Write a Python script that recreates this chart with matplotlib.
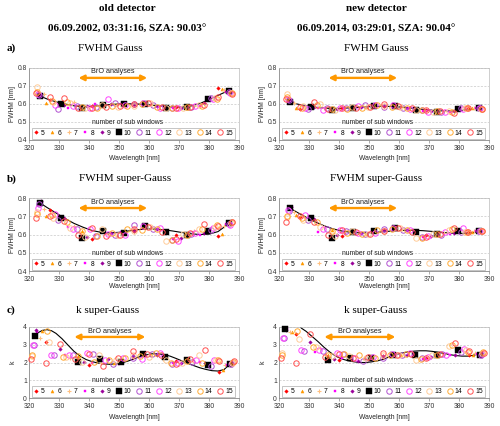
import numpy as np
import matplotlib
matplotlib.use('Agg')
import matplotlib.pyplot as plt
from matplotlib.lines import Line2D

plt.rcParams['font.family'] = 'Liberation Sans'

# number of sub windows per series
n_windows = [5, 6, 7, 8, 9, 10, 11, 12, 13, 14, 15]

# sub window centre wavelengths [nm] for the FWHM panels
x_fwhm = [
    [327.0, 341.0, 355.0, 369.0, 383.0],
    [325.8, 337.5, 349.2, 360.8, 372.5, 384.2],
    [325.0, 335.0, 345.0, 355.0, 365.0, 375.0, 385.0],
    [324.4, 333.1, 341.9, 350.6, 359.4, 368.1, 376.9, 385.6],
    [323.9, 331.7, 339.4, 347.2, 355.0, 362.8, 370.6, 378.3, 386.1],
    [323.5, 330.5, 337.5, 344.5, 351.5, 358.5, 365.5, 372.5, 379.5, 386.5],
    [323.2, 329.5, 335.9, 342.3, 348.6, 355.0, 361.4, 367.7, 374.1, 380.5, 386.8],
    [322.9, 328.8, 334.6, 340.4, 346.2, 352.1, 357.9, 363.8, 369.6, 375.4, 381.2, 387.1],
    [322.7, 328.1, 333.5, 338.8, 344.2, 349.6, 355.0, 360.4, 365.8, 371.2, 376.5, 381.9, 387.3],
    [322.5, 327.5, 332.5, 337.5, 342.5, 347.5, 352.5, 357.5, 362.5, 367.5, 372.5, 377.5, 382.5, 387.5],
    [322.3, 327.0, 331.7, 336.3, 341.0, 345.7, 350.3, 355.0, 359.7, 364.3, 369.0, 373.7, 378.3, 383.0, 387.7],
]

# sub window centre wavelengths [nm] for the k panels
x_k = [
    [325.5, 340.0, 354.5, 368.9, 383.4],
    [324.3, 336.4, 348.4, 360.5, 372.5, 384.6],
    [323.5, 333.8, 344.1, 354.5, 364.8, 375.1, 385.4],
    [322.8, 331.9, 340.9, 349.9, 359.0, 368.0, 377.0, 386.1],
    [322.3, 330.4, 338.4, 346.4, 354.5, 362.5, 370.5, 378.6, 386.6],
    [321.9, 329.2, 336.4, 343.6, 350.8, 358.1, 365.3, 372.5, 379.8, 387.0],
    [321.6, 328.2, 334.7, 341.3, 347.9, 354.5, 361.0, 367.6, 374.2, 380.7, 387.3],
    [321.3, 327.3, 333.4, 339.4, 345.4, 351.4, 357.5, 363.5, 369.5, 375.5, 381.6, 387.6],
    [321.1, 326.6, 332.2, 337.8, 343.3, 348.9, 354.5, 360.0, 365.6, 371.1, 376.7, 382.3, 387.8],
    [320.9, 326.0, 331.2, 336.4, 341.5, 346.7, 351.9, 357.0, 362.2, 367.4, 372.5, 377.7, 382.9, 388.0],
    [320.7, 325.5, 330.4, 335.2, 340.0, 344.8, 349.6, 354.5, 359.3, 364.1, 368.9, 373.7, 378.6, 383.4, 388.2],
]

# a) FWHM Gauss, old detector (2002)
gauss_old = [
    [0.620, 0.590, 0.600, 0.585, 0.690],
    [0.608, 0.585, 0.598, 0.602, 0.580, 0.685],
    [0.655, 0.610, 0.590, 0.605, 0.585, 0.590, 0.675],
    [0.640, 0.580, 0.598, 0.600, 0.603, 0.578, 0.588, 0.668],
    [0.642, 0.593, 0.588, 0.602, 0.598, 0.590, 0.580, 0.605, 0.672],
    [0.645, 0.598, 0.578, 0.596, 0.600, 0.600, 0.575, 0.584, 0.630, 0.670],
    [0.648, 0.572, 0.590, 0.582, 0.607, 0.600, 0.595, 0.580, 0.585, 0.635, 0.668],
    [0.655, 0.595, 0.588, 0.578, 0.625, 0.592, 0.605, 0.578, 0.580, 0.588, 0.628, 0.662],
    [0.695, 0.612, 0.603, 0.576, 0.592, 0.585, 0.590, 0.603, 0.575, 0.575, 0.592, 0.632, 0.660],
    [0.668, 0.615, 0.612, 0.586, 0.580, 0.590, 0.588, 0.600, 0.585, 0.575, 0.582, 0.590, 0.630, 0.660],
    [0.662, 0.640, 0.632, 0.580, 0.576, 0.582, 0.590, 0.600, 0.606, 0.582, 0.575, 0.585, 0.595, 0.638, 0.658],
]

# a) FWHM Gauss, new detector (2014)
gauss_new = [
    [0.572, 0.575, 0.590, 0.565, 0.580],
    [0.575, 0.572, 0.582, 0.590, 0.565, 0.578],
    [0.605, 0.578, 0.580, 0.592, 0.570, 0.560, 0.580],
    [0.612, 0.580, 0.575, 0.588, 0.585, 0.560, 0.558, 0.578],
    [0.615, 0.585, 0.570, 0.583, 0.587, 0.578, 0.560, 0.560, 0.578],
    [0.611, 0.583, 0.567, 0.580, 0.587, 0.589, 0.567, 0.554, 0.572, 0.578],
    [0.620, 0.570, 0.578, 0.575, 0.592, 0.583, 0.580, 0.568, 0.558, 0.575, 0.578],
    [0.625, 0.575, 0.568, 0.575, 0.588, 0.596, 0.593, 0.572, 0.558, 0.555, 0.572, 0.575],
    [0.655, 0.590, 0.598, 0.568, 0.582, 0.585, 0.590, 0.585, 0.568, 0.558, 0.560, 0.575, 0.572],
    [0.640, 0.578, 0.595, 0.570, 0.572, 0.580, 0.592, 0.585, 0.575, 0.565, 0.560, 0.558, 0.578, 0.572],
    [0.630, 0.582, 0.610, 0.570, 0.575, 0.578, 0.585, 0.598, 0.588, 0.575, 0.568, 0.562, 0.550, 0.580, 0.570],
]

# b) FWHM super-Gauss, old detector
sgauss_old = [
    [0.735, 0.578, 0.628, 0.600, 0.592],
    [0.700, 0.618, 0.590, 0.640, 0.610, 0.602],
    [0.740, 0.645, 0.630, 0.615, 0.612, 0.620, 0.645],
    [0.780, 0.640, 0.595, 0.612, 0.640, 0.575, 0.600, 0.655],
    [0.782, 0.690, 0.588, 0.608, 0.620, 0.630, 0.582, 0.610, 0.662],
    [0.772, 0.693, 0.582, 0.618, 0.606, 0.645, 0.613, 0.599, 0.617, 0.664],
    [0.765, 0.680, 0.628, 0.592, 0.600, 0.650, 0.630, 0.570, 0.605, 0.625, 0.655],
    [0.745, 0.710, 0.630, 0.630, 0.605, 0.600, 0.648, 0.635, 0.562, 0.610, 0.635, 0.652],
    [0.725, 0.690, 0.638, 0.585, 0.630, 0.598, 0.620, 0.640, 0.565, 0.605, 0.632, 0.640, 0.665],
    [0.712, 0.705, 0.670, 0.618, 0.590, 0.606, 0.632, 0.625, 0.628, 0.568, 0.600, 0.628, 0.650, 0.668],
    [0.692, 0.700, 0.672, 0.600, 0.636, 0.590, 0.600, 0.628, 0.640, 0.615, 0.575, 0.610, 0.660, 0.648, 0.670],
]

# b) FWHM super-Gauss, new detector
sgauss_new = [
    [0.695, 0.590, 0.625, 0.598, 0.615],
    [0.705, 0.622, 0.605, 0.630, 0.605, 0.615],
    [0.725, 0.642, 0.615, 0.625, 0.618, 0.610, 0.620],
    [0.752, 0.615, 0.605, 0.612, 0.632, 0.585, 0.605, 0.618],
    [0.752, 0.685, 0.595, 0.608, 0.625, 0.625, 0.590, 0.610, 0.620],
    [0.746, 0.690, 0.583, 0.616, 0.618, 0.633, 0.616, 0.605, 0.618, 0.620],
    [0.730, 0.680, 0.632, 0.618, 0.602, 0.630, 0.622, 0.585, 0.600, 0.612, 0.618],
    [0.735, 0.705, 0.630, 0.622, 0.608, 0.608, 0.638, 0.625, 0.590, 0.612, 0.635, 0.620],
    [0.695, 0.680, 0.640, 0.590, 0.618, 0.605, 0.620, 0.635, 0.580, 0.605, 0.625, 0.612, 0.620],
    [0.700, 0.690, 0.670, 0.620, 0.610, 0.605, 0.625, 0.630, 0.622, 0.580, 0.605, 0.630, 0.615, 0.620],
    [0.668, 0.700, 0.670, 0.600, 0.625, 0.612, 0.605, 0.620, 0.635, 0.615, 0.585, 0.605, 0.635, 0.612, 0.620],
]

# c) k super-Gauss, old detector
k_old = [
    [3.15, 1.85, 2.30, 2.10, 1.45],
    [3.78, 2.35, 1.95, 2.40, 2.15, 1.55],
    [3.40, 2.25, 2.00, 2.35, 2.20, 2.05, 1.85],
    [3.72, 2.40, 2.00, 1.90, 2.35, 1.95, 2.05, 1.85],
    [3.82, 2.78, 2.05, 2.20, 2.35, 2.40, 1.95, 2.00, 1.90],
    [3.48, np.nan, 2.02, 2.20, 2.05, 2.47, 2.30, 2.13, 1.85, 1.92],
    [3.00, 2.40, 2.40, 2.50, 1.90, 2.25, 2.50, 1.90, 2.05, 1.80, 1.90],
    [3.00, 2.40, 2.40, 2.55, 2.15, 2.25, 2.20, 2.55, 1.95, 2.15, 2.15, 1.95],
    [2.35, 3.15, 2.30, 2.05, 2.45, 2.15, 2.40, 2.30, 2.15, 1.95, 2.40, 2.15, 2.00],
    [2.40, 3.80, 2.30, 2.35, 2.05, 2.15, 2.25, 2.35, 2.55, 1.95, 2.10, 2.00, 2.15, 2.05],
    [2.20, 1.97, 3.03, 2.20, 2.50, 1.80, 2.25, 2.62, 2.50, 2.40, 1.90, 2.20, 2.70, 2.10, 2.10],
]

# c) k super-Gauss, new detector
k_new = [
    [3.60, 2.15, 2.30, 2.25, 2.40],
    [3.70, 2.45, 2.25, 2.40, 2.40, 2.45],
    [3.70, 2.80, 2.20, 2.35, 2.35, 2.50, 2.55],
    [3.87, 2.60, 2.25, 2.15, 2.40, 2.20, 2.45, 2.50],
    [3.85, 3.15, 2.20, 2.10, 2.35, 2.45, 2.30, 2.45, 2.45],
    [3.87, np.nan, 2.15, 2.28, 2.28, 2.40, 2.40, 2.40, 2.73, 2.40],
    [3.38, 2.65, 2.65, 2.50, 2.10, 2.25, 2.45, 2.25, 2.50, 2.60, 2.45],
    [3.38, 2.70, 2.70, 2.55, 2.25, 2.30, 2.50, 2.55, 2.30, 2.45, 2.75, 2.50],
    [2.55, 3.35, 2.85, 2.35, 2.35, 2.25, 2.40, 2.45, 2.15, 2.40, 2.95, 2.70, 2.55],
    [2.40, 3.75, 2.85, 2.45, 2.50, 2.45, 2.25, 2.45, 2.50, 2.20, 2.45, 3.00, 2.60, 2.60],
    [2.25, 1.95, 3.60, 2.30, 2.50, 2.25, 2.30, 2.55, 2.45, 2.50, 2.25, 2.50, 3.10, 2.65, 2.55],
]

# trend curves
fit_x_fwhm = [323.5, 326, 329, 332, 335, 338, 341, 344, 347, 350, 353, 356, 359, 362,
              365, 368, 371, 374, 377, 380, 383, 386.5]
fit_gauss_old = [0.645, 0.628, 0.612, 0.600, 0.590, 0.585, 0.587, 0.592, 0.597, 0.600, 0.601,
                 0.600, 0.597, 0.592, 0.587, 0.583, 0.583, 0.589, 0.603, 0.624, 0.648, 0.674]
fit_gauss_new = [0.612, 0.600, 0.590, 0.582, 0.577, 0.575, 0.576, 0.579, 0.582, 0.585, 0.587,
                 0.587, 0.585, 0.581, 0.576, 0.570, 0.565, 0.562, 0.561, 0.563, 0.568, 0.578]
fit_sgauss_old = [0.775, 0.748, 0.718, 0.688, 0.661, 0.640, 0.622, 0.612, 0.609, 0.612, 0.619,
                  0.626, 0.630, 0.630, 0.626, 0.619, 0.611, 0.604, 0.600, 0.602, 0.616, 0.658]
fit_sgauss_new = [0.746, 0.722, 0.695, 0.670, 0.648, 0.631, 0.619, 0.612, 0.609, 0.610, 0.613,
                  0.617, 0.621, 0.623, 0.623, 0.621, 0.617, 0.612, 0.608, 0.606, 0.607, 0.615]

fit_x_k = [321.9, 323, 324.5, 326, 327.5, 329, 331, 333, 335, 337, 339, 341, 343, 345, 347,
           349, 351, 353, 355, 357, 359, 361, 363, 365, 367, 369, 371, 373, 375, 377, 379,
           381, 383, 385, 387]
fit_k_old = [3.45, 3.68, 3.81, 3.85, 3.79, 3.64, 3.34, 2.98, 2.63, 2.36, 2.17, 2.05, 1.97, 1.92,
             1.90, 1.93, 1.98, 2.08, 2.21, 2.33, 2.43, 2.49, 2.49, 2.45, 2.36, 2.23, 2.09, 1.95,
             1.82, 1.70, 1.61, 1.54, 1.52, 1.60, 1.92]
fit_k_new = [5.20, 4.95, 4.60, 4.20, 3.93, 3.76, 3.47, 3.18, 2.86, 2.58, 2.35, 2.20, 2.10, 2.04,
             2.00, 2.00, 2.04, 2.10, 2.20, 2.33, 2.45, 2.54, 2.60, 2.64, 2.66, 2.66, 2.63, 2.58,
             2.51, 2.44, 2.39, 2.36, 2.36, 2.41, 2.50]

# marker style per series (5 ... 15 sub windows)
styles = [
    dict(marker='D', ms=1.8, mfc='#ff0000', mec='#ff0000', mew=0.3),
    dict(marker='^', ms=2.2, mfc='#ff9900', mec='#ff9900', mew=0.3),
    dict(marker='+', ms=3.0, mfc='#ffc080', mec='#ffc080', mew=0.8),
    dict(marker='s', ms=1.8, mfc='#ff00ff', mec='#ff00ff', mew=0.3),
    dict(marker='D', ms=1.8, mfc='#990099', mec='#990099', mew=0.3),
    dict(marker='s', ms=3.7, mfc='black', mec='black', mew=0.3),
    dict(marker='o', ms=3.9, mfc='none', mec='#b050d0', mew=0.7),
    dict(marker='o', ms=3.9, mfc='none', mec='#ff44ff', mew=0.7),
    dict(marker='o', ms=3.9, mfc='none', mec='#ffcc99', mew=0.7),
    dict(marker='o', ms=3.9, mfc='none', mec='#ffaa33', mew=0.7),
    dict(marker='o', ms=3.9, mfc='none', mec='#ff5050', mew=0.7),
]

orange = '#ff9900'
fs = 4.9
serif = 'Liberation Serif'

fig = plt.figure(figsize=(5, 4.26), dpi=100)


def draw_panel(pos, xs, ys, fx, fy, ylim, yticks, ylabels, arrow_y, text_y, arrow_x):
    ax = fig.add_axes(pos)
    ax.set_xlim(320, 390)
    ax.set_ylim(*ylim)
    ax.set_xticks(range(320, 391, 10))
    ax.set_yticks(yticks)
    ax.set_yticklabels(ylabels)
    ax.tick_params(axis='both', labelsize=fs, colors='#333333', pad=1.5)
    ax.tick_params(axis='x', length=2, width=0.5, color='#888888')
    ax.tick_params(axis='y', length=0)
    ax.grid(axis='y', color='#c8c8c8', linestyle=(0, (3, 2)), linewidth=0.5)
    ax.set_axisbelow(True)
    for side in ['left', 'bottom']:
        ax.spines[side].set_color('#888888')
        ax.spines[side].set_linewidth(0.6)
    for side in ['top', 'right']:
        ax.spines[side].set_color('#bbbbbb')
        ax.spines[side].set_linewidth(0.5)

    ax.plot(fx, fy, color='black', lw=0.8, zorder=2)
    for x, y, st in zip(xs, ys, styles):
        ax.plot(x, y, ls='none', zorder=3, clip_on=False, **st)

    ax.annotate('', xy=(arrow_x[0], arrow_y), xytext=(arrow_x[1], arrow_y),
                arrowprops=dict(arrowstyle='<|-|>', color=orange, lw=1.7,
                                mutation_scale=8, shrinkA=0, shrinkB=0))
    ax.text(np.mean(arrow_x), text_y, 'BrO analyses', ha='center', va='center',
            fontsize=5.2, color='#222222')

    handles = [Line2D([], [], ls='none', **st) for st in styles]
    leg = ax.legend(handles, [str(n) for n in n_windows], ncol=11, loc='lower left',
                    bbox_to_anchor=(0.013, 0.02, 0.967, 0.13), mode='expand',
                    fontsize=fs, frameon=True, fancybox=False, borderpad=0.25,
                    handlelength=0.7, handletextpad=0.4, columnspacing=0.6,
                    borderaxespad=0)
    leg.get_frame().set_edgecolor('#999999')
    leg.get_frame().set_linewidth(0.5)
    ax.text(0.47, 0.245, 'number of sub windows', transform=ax.transAxes,
            ha='center', va='center', fontsize=fs, color='#222222')
    return ax


fwhm_ticks = [0.4, 0.5, 0.6, 0.7, 0.8]
fwhm_labels = ['0.4', '0.5', '0.6', '0.7', '0.8']
k_ticks = [0, 1, 2, 3, 4]
k_labels = ['0', '1', '2', '3', '4']

rows = [
    (0.6714, 0.169, x_fwhm, gauss_old, gauss_new, fit_x_fwhm, fit_gauss_old, fit_gauss_new,
     (0.4, 0.8), fwhm_ticks, fwhm_labels, 0.745, 0.781, (336.5, 359.4)),
    (0.3638, 0.1714, x_fwhm, sgauss_old, sgauss_new, fit_x_fwhm, fit_sgauss_old, fit_sgauss_new,
     (0.4, 0.8), fwhm_ticks, fwhm_labels, 0.745, 0.778, (336.5, 359.4)),
    (0.0657, 0.1667, x_k, k_old, k_new, fit_x_k, fit_k_old, fit_k_new,
     (0, 4), k_ticks, k_labels, 3.44, 3.72, (335.1, 358.8)),
]

for i, (bot, h, xs, y_old, y_new, fx, f_old, f_new, ylim, yt, yl, ay, ty, ax_) in enumerate(rows):
    draw_panel([0.058, bot, 0.42, h], xs, y_old, fx, f_old, ylim, yt, yl, ay, ty, ax_)
    draw_panel([0.558, bot, 0.42, h], xs, y_new, fx, f_new, ylim, yt, yl, ay, ty, ax_)
    ylab = 'k' if i == 2 else 'FWHM [nm]'
    for xl in [0.026, 0.526]:
        fig.text(xl, bot + h / 2, ylab, rotation=90, ha='center', va='center',
                 fontsize=fs, color='#222222')

# x axis labels
for yl in [0.6268, 0.3286, 0.0211]:
    for xc in [0.268, 0.768]:
        fig.text(xc, yl, 'Wavelength [nm]', ha='center', va='center', fontsize=fs,
                 color='#222222')

# headings
fig.text(0.254, 0.979, 'old detector', ha='center', va='center', family=serif,
         weight='bold', fontsize=8)
fig.text(0.254, 0.934, '06.09.2002, 03:31:16, SZA: 90.03°', ha='center', va='center',
         family=serif, weight='bold', fontsize=8)
fig.text(0.752, 0.979, 'new detector', ha='center', va='center', family=serif,
         weight='bold', fontsize=8)
fig.text(0.752, 0.934, '06.09.2014, 03:29:01, SZA: 90.04°', ha='center', va='center',
         family=serif, weight='bold', fontsize=8)

panel_titles = [('a)', 'FWHM Gauss', 0.887, 0.22),
                ('b)', 'FWHM super-Gauss', 0.58, 0.25),
                ('c)', 'k super-Gauss', 0.272, 0.216)]
for tag, title, yt, xt in panel_titles:
    fig.text(0.014, yt, tag, ha='left', va='center', family=serif, weight='bold', fontsize=8)
    fig.text(xt, yt, title, ha='center', va='center', family=serif, fontsize=8)
    fig.text(0.752, yt, title, ha='center', va='center', family=serif, fontsize=8)

fig.savefig('out.png', dpi=100, facecolor='white')
